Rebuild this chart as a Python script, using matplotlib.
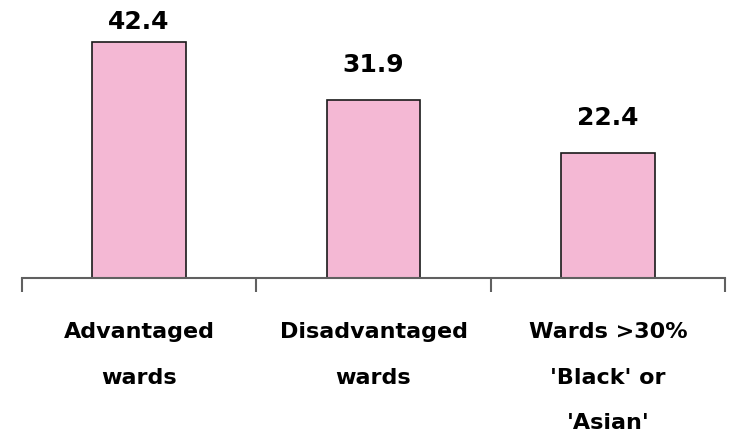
import matplotlib
matplotlib.use("Agg")
import matplotlib.pyplot as plt

categories = ["Advantaged\nwards", "Disadvantaged\nwards", "Wards >30%\n'Black' or\n'Asian'"]
values = [42.4, 31.9, 22.4]
value_labels = ["42.4", "31.9", "22.4"]

W, H = 740, 440
fig = plt.figure(figsize=(W / 100, H / 100), dpi=100)
# axes: x from 22 to 725 px, y from 278 (bottom) to 20 (top) px
ax = fig.add_axes([22 / W, (H - 278) / H, (725 - 22) / W, (278 - 20) / H])
scale = 236 / 42.4
ymax = 258 / scale
ax.set_xlim(-0.5, 2.5)
ax.set_ylim(0, ymax)

x = list(range(len(values)))
ax.bar(x, values, width=0.4, color="#F4B8D4", edgecolor="#1a1a1a", linewidth=1.2, zorder=2)

for xi, v, lab in zip(x, values, value_labels):
    yt = min(v + 6.3, ymax - 0.3)
    ax.text(xi, yt, lab, ha="center", va="center", fontsize=18, fontweight="bold",
            family="DejaVu Sans", color="black")

for s in ["top", "right", "left"]:
    ax.spines[s].set_visible(False)
ax.spines["bottom"].set_color("#606060")
ax.spines["bottom"].set_linewidth(1.5)
ax.set_yticks([])
ax.set_xticks([-0.5, 0.5, 1.5, 2.5])
ax.set_xticklabels([])
ax.tick_params(axis="x", direction="out", length=10, width=1.5, color="#606060")

for xi, cat in zip(x, categories):
    ax.text(xi, -(322 - 278) / scale, cat, ha="center", va="top",
            fontsize=16, fontweight="bold", family="DejaVu Sans",
            linespacing=2.6, transform=ax.transData)

fig.savefig("out.png", dpi=100)
